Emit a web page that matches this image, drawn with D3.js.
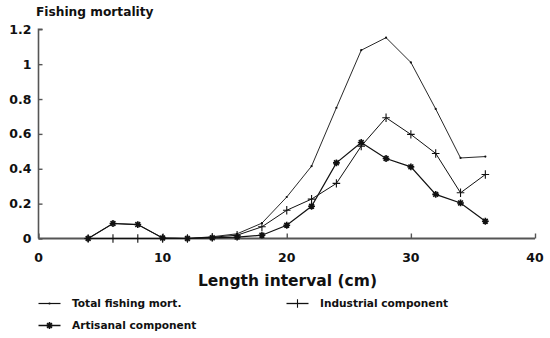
<!DOCTYPE html>
<html><head><meta charset="utf-8">
<script src="https://cdn.jsdelivr.net/npm/d3@7"></script>
<style>
html,body{margin:0;padding:0;background:#fff;}
svg{display:block;}
text{font-family:"DejaVu Sans",sans-serif;font-weight:bold;fill:#111;}
</style></head>
<body>
<svg id="chart" width="550" height="338"></svg>
<script>
const lengths = [4,6,8,10,12,14,16,18,20,22,24,26,28,30,32,34,36];
const totalF = [0,0.086,0.08,0.003,0,0.01,0.027,0.088,0.238,0.415,0.75,1.08,1.152,1.01,0.743,0.462,0.47];
const industrialF = [0,0,0,0,0,0.007,0.019,0.067,0.162,0.226,0.316,0.53,0.693,0.597,0.488,0.262,0.367];
const artisanalF = [0,0.086,0.08,0.003,0,0.004,0.008,0.019,0.076,0.185,0.434,0.551,0.459,0.411,0.253,0.204,0.099];
const xTicks = [0,10,20,30,40];
const yTicks = [0,0.2,0.4,0.6,0.8,1,1.2];
const yTickLabels = ["0","0.2","0.4","0.6","0.8","1","1.2"];
const legendLabels = ["Total fishing mort.","Industrial component","Artisanal component"];

const svg = d3.select("#chart");
const x = d3.scaleLinear().domain([0,40]).range([38.5,535]);
const y = d3.scaleLinear().domain([0,1.2]).range([238.5,29.3]);
const axisColor = "#555";

// y axis
const yAxis = svg.append("g").attr("transform","translate(38.5,0)")
  .call(d3.axisRight(y).tickValues(yTicks).tickSize(4).tickFormat(""));
yAxis.select(".domain").attr("stroke",axisColor).attr("stroke-width",1.6).attr("d",`M4,${y(1.2)}H0V${y(0)}`);
yAxis.selectAll(".tick line").attr("stroke",axisColor).attr("stroke-width",1.4);
svg.append("g").selectAll("text").data(yTicks).join("text")
  .attr("x",31.5).attr("y",d=>y(d)).attr("dy","0.36em").attr("text-anchor","end")
  .style("font-size","12.5px").text((d,i)=>yTickLabels[i]);

// x axis
const xAxis = svg.append("g").attr("transform",`translate(0,${y(0)})`)
  .call(d3.axisTop(x).tickValues(xTicks).tickSize(5).tickFormat(""));
xAxis.select(".domain").attr("stroke",axisColor).attr("stroke-width",2).attr("d",`M${x(0)},0H${x(40)}`);
xAxis.selectAll(".tick line").attr("stroke",axisColor).attr("stroke-width",1.4);
svg.append("g").selectAll("text").data(xTicks).join("text")
  .attr("x",d=>x(d)).attr("y",262).attr("text-anchor","middle")
  .style("font-size","12.5px").text(d=>d);

// titles
svg.append("text").attr("x",36).attr("y",16).style("font-size","12.2px").text("Fishing mortality");
svg.append("text").attr("x",287.5).attr("y",285.5).attr("text-anchor","middle")
  .style("font-size","15.5px").text("Length interval (cm)");

// lines
const line = d3.line().x(d=>x(d[0])).y(d=>y(d[1]));
const zip = arr => lengths.map((l,i)=>[l,arr[i]]);
const seriesList = [
  {vals: totalF, marker:"dot", sw:0.9},
  {vals: industrialF, marker:"plus", sw:1},
  {vals: artisanalF, marker:"star", sw:1.2}
];
function drawMarker(g, type, cx, cy){
  if(type==="dot"){
    g.append("circle").attr("cx",cx).attr("cy",cy).attr("r",1.1).attr("fill","#111");
  } else if(type==="plus"){
    g.append("path").attr("d",`M${cx-3.8},${cy}H${cx+3.8}M${cx},${cy-4.2}V${cy+4.2}`)
      .attr("stroke","#111").attr("stroke-width",1.1).attr("fill","none");
  } else {
    const r=3.4;
    let d="";
    for(let k=0;k<4;k++){
      const a=Math.PI/4*k;
      d+=`M${cx-r*Math.cos(a)},${cy-r*Math.sin(a)}L${cx+r*Math.cos(a)},${cy+r*Math.sin(a)}`;
    }
    g.append("path").attr("d",d).attr("stroke","#111").attr("stroke-width",1.6).attr("fill","none");
  }
}
seriesList.forEach(s=>{
  const data = zip(s.vals);
  svg.append("path").datum(data).attr("d",line).attr("fill","none")
    .attr("stroke","#111").attr("stroke-width",s.sw);
  const g = svg.append("g");
  data.forEach(d=>drawMarker(g,s.marker,x(d[0]),y(d[1])));
});

// legend
const legendPos = [[38.5,303.5],[286.5,303.5],[38.5,325.5]];
legendLabels.forEach((lab,i)=>{
  const [lx,ly] = legendPos[i];
  const s = seriesList[i];
  svg.append("line").attr("x1",lx).attr("x2",lx+22).attr("y1",ly).attr("y2",ly)
    .attr("stroke","#111").attr("stroke-width",s.sw+0.3);
  const g = svg.append("g");
  drawMarker(g,s.marker,lx+11,ly);
  svg.append("text").attr("x",lx+33.5).attr("y",ly).attr("dy","0.36em")
    .style("font-size","10.6px").text(lab);
});
</script>
</body></html>
